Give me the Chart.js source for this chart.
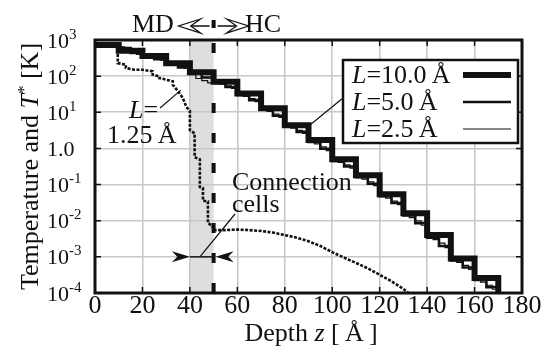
<!DOCTYPE html>
<html>
<head>
<meta charset="utf-8">
<script src="https://cdn.jsdelivr.net/npm/chart.js@4.4.0/dist/chart.umd.min.js"></script>
<style>
  html, body { margin: 0; padding: 0; background: #fff; }
  #wrap { width: 548px; height: 354px; }
</style>
</head>
<body>
<div id="wrap"><canvas id="chart" width="548" height="354"></canvas></div>
<script>
// axis ticks
const xTicks = [0, 20, 40, 60, 80, 100, 120, 140, 160, 180];
const yTicks = [1e3, 1e2, 1e1, 1, 1e-1, 1e-2, 1e-3, 1e-4];
const yTickExp = ['3', '2', '1', null, '-1', '-2', '-3', '-4'];

// binned T* profiles, first bin starts at z = 0
const binL10 = 10;
const tempL10 = [727, 506, 360, 227, 128, 70, 33, 13, 4.4, 1.7, 0.5, 0.18, 0.054, 0.016, 0.004, 9e-4, 2.6e-4];
const binL5 = 5;
const tempL5 = [730, 715, 600, 440, 344, 292, 214, 175, 120, 92, 65, 50, 30, 21.7, 11.7, 8.0, 4.0, 2.87,
  1.5, 0.98, 0.45, 0.315, 0.16, 0.105, 0.048, 0.031, 0.0139, 0.0086, 0.0034, 0.002, 8e-4, 5.1e-4, 2.3e-4, 1.45e-4];
const binL25 = 2.5;
const tempL25 = [735, 725, 712, 695, 650, 620, 440, 400, 352, 328, 306, 279, 221, 202, 186, 166,
  110, 86, 75, 65, 67, 60, 54, 46, 31.5, 27.4, 23.8, 19.8, 12.3, 10.5, 8.9, 7.2,
  4.2, 3.64, 3.15, 2.6, 1.6, 1.33, 1.11, 0.87, 0.475, 0.41, 0.35, 0.285, 0.17, 0.141, 0.118, 0.093,
  0.051, 0.042, 0.035, 0.028, 0.0149, 0.0121, 0.0099, 0.0075, 0.0037, 0.003, 0.0024, 0.0018,
  8.5e-4, 7e-4, 5.8e-4, 4.5e-4, 2.4e-4, 2e-4, 1.64e-4, 1.27e-4];
const belowAxis = 1e-5; // profiles end by dropping off the bottom of the plot

// L = 1.25 profile, read point by point
const zL125 = [0, 9.6, 9.6, 13, 13, 16.6, 20, 24.3, 24.3, 27.2, 27.2, 32.8, 32.8, 35, 37, 38.5, 40, 40,
  42, 42, 44.2, 44.2, 45.5, 45.5, 47.6, 47.6, 49.5, 50, 55, 60, 65, 70, 75, 80, 85, 90, 95,
  100, 105, 110, 115, 120, 125, 130, 135];
const tempL125 = [720, 720, 230, 207, 168, 150, 150, 136, 110, 98, 88, 72, 58, 38, 25, 14, 11, 3.2,
  2.6, 0.57, 0.5, 0.085, 0.08, 0.036, 0.034, 0.0086, 0.0072, 0.0055, 0.0055, 0.0057, 0.0055, 0.0052, 0.0047, 0.004, 0.0034, 0.0027, 0.002,
  0.00135, 0.00095, 0.00068, 0.00048, 0.00032, 0.00021, 0.00013, 7e-5];

// MD region / connection cells
const mdRegion = [40, 50];
const boundaryZ = 50;
const connectionT = 1e-3;

const serif = '"Liberation Serif", "Times New Roman", serif';
const gridColor = '#c8c8c8';
const ink = '#111';
const fs = 26; // main text size

function font(size, italic) {
  return (italic ? 'italic ' : '') + size + 'px ' + serif;
}

function stepData(bin, values) {
  const pts = values.map((v, i) => ({ x: i * bin, y: v }));
  pts.push({ x: values.length * bin, y: belowAxis });
  return pts;
}

function drawRuns(ctx, x, y, runs, align) {
  let w = 0;
  runs.forEach(r => { ctx.font = r.font; r.w = ctx.measureText(r.text).width; w += r.w; });
  let cx = align === 'center' ? x - w / 2 : align === 'right' ? x - w : x;
  runs.forEach(r => {
    ctx.font = r.font;
    ctx.fillText(r.text, cx, y + (r.dy || 0));
    cx += r.w;
  });
}

function arrowHead(ctx, tipX, tipY, dir, len, half) {
  ctx.beginPath();
  ctx.moveTo(tipX, tipY);
  ctx.lineTo(tipX - dir * len, tipY - half);
  ctx.lineTo(tipX - dir * len * 0.7, tipY);
  ctx.lineTo(tipX - dir * len, tipY + half);
  ctx.closePath();
  ctx.fill();
}

function hollowHead(ctx, tipX, tipY, dir, len, half) {
  ctx.beginPath();
  ctx.moveTo(tipX + dir * len, tipY - half);
  ctx.lineTo(tipX, tipY);
  ctx.lineTo(tipX + dir * len, tipY + half);
  ctx.lineTo(tipX + dir * len * 0.55, tipY);
  ctx.closePath();
  ctx.stroke();
}

const decorPlugin = {
  id: 'decor',
  beforeDraw(chart) {
    const { ctx, chartArea: a, scales: { x } } = chart;
    ctx.save();
    ctx.fillStyle = '#dedede';
    const x0 = x.getPixelForValue(mdRegion[0]);
    const x1 = x.getPixelForValue(mdRegion[1]);
    ctx.fillRect(x0, a.top, x1 - x0, a.bottom - a.top);
    ctx.restore();
  },
  afterDraw(chart) {
    const { ctx, chartArea: a, scales: { x, y } } = chart;
    ctx.save();
    ctx.strokeStyle = ink;
    ctx.fillStyle = ink;

    // frame + inward ticks
    ctx.lineWidth = 1.5;
    ctx.beginPath();
    xTicks.forEach(v => {
      const gx = x.getPixelForValue(v);
      ctx.moveTo(gx, a.bottom); ctx.lineTo(gx, a.bottom - 6);
      ctx.moveTo(gx, a.top); ctx.lineTo(gx, a.top + 6);
    });
    yTicks.forEach(v => {
      const gy = y.getPixelForValue(v);
      ctx.moveTo(a.left, gy); ctx.lineTo(a.left + 6, gy);
      ctx.moveTo(a.right, gy); ctx.lineTo(a.right - 6, gy);
    });
    ctx.stroke();
    ctx.lineWidth = 3;
    ctx.strokeRect(a.left, a.top, a.right - a.left, a.bottom - a.top);

    ctx.textBaseline = 'alphabetic';
    ctx.textAlign = 'left';

    // tick labels
    xTicks.forEach(v => {
      drawRuns(ctx, x.getPixelForValue(v), 313, [{ text: String(v), font: font(fs) }], 'center');
    });
    yTicks.forEach((v, i) => {
      const gy = y.getPixelForValue(v);
      const runs = yTickExp[i]
        ? [{ text: '10', font: font(22) }, { text: yTickExp[i], font: font(15), dy: -9 }]
        : [{ text: '1.0', font: font(22) }];
      drawRuns(ctx, 47, gy + 7.5, runs, 'left');
    });

    // axis titles
    drawRuns(ctx, 311, 341, [
      { text: 'Depth ', font: font(fs) },
      { text: 'z', font: font(fs, true) },
      { text: ' [\u2009Å\u2009]', font: font(fs) }
    ], 'center');
    ctx.save();
    ctx.translate(38, (a.top + a.bottom) / 2);
    ctx.rotate(-Math.PI / 2);
    drawRuns(ctx, 0, 0, [
      { text: 'Temperature and ', font: font(fs) },
      { text: 'T', font: font(fs, true) },
      { text: '*', font: font(17), dy: -9 },
      { text: ' [K]', font: font(fs) }
    ], 'center');
    ctx.restore();

    // MD <-|-> HC header
    const xd = x.getPixelForValue(boundaryZ);
    drawRuns(ctx, 132, 32, [{ text: 'MD', font: font(fs) }], 'left');
    drawRuns(ctx, 245, 32, [{ text: 'HC', font: font(fs) }], 'left');
    ctx.fillRect(xd - 2, 20, 4, 8);
    ctx.lineWidth = 1.3;
    ctx.beginPath();
    ctx.moveTo(xd - 4, 26); ctx.lineTo(xd - 22, 26);
    ctx.moveTo(xd + 4, 26); ctx.lineTo(xd + 22, 26);
    ctx.stroke();
    hollowHead(ctx, xd - 35, 26, 1, 22, 7);
    hollowHead(ctx, xd + 35, 26, -1, 22, 7);

    // legend box
    const lx = 343, ly = 60, lw = 175, lh = 83;
    ctx.fillStyle = '#fff';
    ctx.fillRect(lx, ly, lw, lh);
    ctx.fillStyle = ink;
    ctx.lineWidth = 2.5;
    ctx.strokeRect(lx, ly, lw, lh);
    const entries = [['10.0', 0], ['5.0', 1], ['2.5', 2]];
    entries.forEach(([lab, di], i) => {
      const ry = ly + 15 + i * 27;
      drawRuns(ctx, lx + 9, ry + 8, [
        { text: 'L', font: font(fs, true) },
        { text: '=' + lab + '\u2009Å', font: font(fs) }
      ], 'left');
      ctx.lineWidth = chart.data.datasets[di].borderWidth;
      ctx.beginPath();
      ctx.moveTo(lx + 120, ry); ctx.lineTo(lx + 168, ry);
      ctx.stroke();
    });
    ctx.lineWidth = 1.2;
    ctx.beginPath();
    ctx.moveTo(lx, ly + 38);
    ctx.lineTo(x.getPixelForValue(90.5), y.getPixelForValue(4.4));
    ctx.stroke();

    // L = 1.25 label
    drawRuns(ctx, 129, 118, [{ text: 'L', font: font(fs, true) }, { text: '=', font: font(fs) }], 'left');
    drawRuns(ctx, 107, 143, [{ text: '1.25\u2009Å', font: font(fs) }], 'left');
    ctx.beginPath();
    ctx.moveTo(160, 108);
    ctx.lineTo(x.getPixelForValue(36.2), y.getPixelForValue(41));
    ctx.stroke();

    // connection cells
    drawRuns(ctx, 232, 190, [{ text: 'Connection', font: font(fs) }], 'left');
    drawRuns(ctx, 232, 212, [{ text: 'cells', font: font(fs) }], 'left');
    const cy = y.getPixelForValue(connectionT);
    ctx.beginPath();
    ctx.moveTo(235, 214);
    ctx.lineTo(x.getPixelForValue(44.2), cy);
    ctx.stroke();
    arrowHead(ctx, x.getPixelForValue(mdRegion[0]), cy, 1, 18, 5.5);
    arrowHead(ctx, x.getPixelForValue(mdRegion[1]) + 2, cy, -1, 18, 5.5);

    ctx.restore();
  }
};

const lineBase = { borderColor: ink, pointRadius: 0, fill: false, tension: 0 };

new Chart(document.getElementById('chart'), {
  type: 'line',
  data: {
    datasets: [
      { ...lineBase, label: 'L=10.0', data: stepData(binL10, tempL10), borderWidth: 6, stepped: true },
      { ...lineBase, label: 'L=5.0', data: stepData(binL5, tempL5), borderWidth: 2.6, stepped: true },
      { ...lineBase, label: 'L=2.5', data: stepData(binL25, tempL25), borderWidth: 1.2, stepped: true },
      { ...lineBase, label: 'L=1.25', data: zL125.map((z, i) => ({ x: z, y: tempL125[i] })),
        borderWidth: 2.6, borderDash: [3, 1.5] },
      { ...lineBase, label: 'boundary', data: [{ x: boundaryZ, y: 1e3 }, { x: boundaryZ, y: 1e-4 }],
        borderWidth: 4, borderDash: [10, 20], borderDashOffset: -3 },
      { ...lineBase, label: 'cells', data: [{ x: mdRegion[0], y: connectionT }, { x: mdRegion[1], y: connectionT }],
        borderWidth: 1.5 }
    ]
  },
  options: {
    responsive: false,
    animation: false,
    events: [],
    layout: { padding: { left: 0, right: 26, top: 40, bottom: 0 } },
    plugins: { legend: { display: false }, tooltip: { enabled: false } },
    scales: {
      x: {
        type: 'linear', min: 0, max: 180,
        afterBuildTicks: s => { s.ticks = xTicks.map(v => ({ value: v })); },
        afterFit: s => { s.height = 61; },
        ticks: { display: false },
        grid: { color: gridColor, lineWidth: 1.6, drawTicks: false },
        border: { display: false }
      },
      y: {
        type: 'logarithmic', min: 1e-4, max: 1e3,
        afterBuildTicks: s => { s.ticks = yTicks.map(v => ({ value: v })); },
        afterFit: s => { s.width = 95; },
        ticks: { display: false },
        grid: { color: gridColor, lineWidth: 1.6, drawTicks: false },
        border: { display: false }
      }
    }
  },
  plugins: [decorPlugin]
});
</script>
</body>
</html>
